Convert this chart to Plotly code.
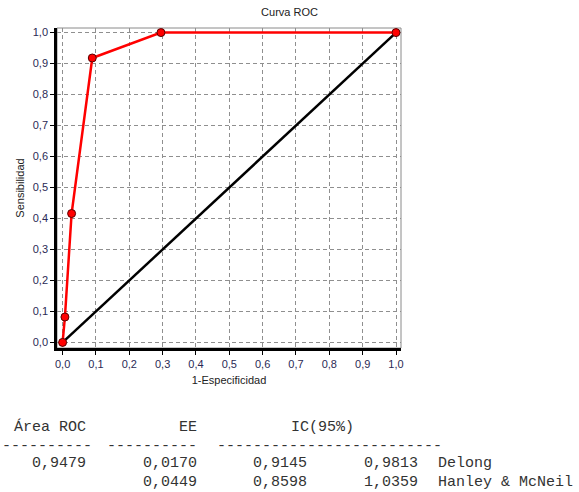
import plotly.graph_objects as go

# ---------------- data ----------------
fpr = [0.0, 0.007, 0.027, 0.089, 0.295, 1.0]
tpr = [0.0, 0.082, 0.416, 0.918, 1.0, 1.0]
diag_x = [0.0, 1.0]
diag_y = [0.0, 1.0]
tick_vals = [0.0, 0.1, 0.2, 0.3, 0.4, 0.5, 0.6, 0.7, 0.8, 0.9, 1.0]

table_header = ["Área ROC", "EE", "IC(95%)"]
area_roc = ["0,9479", ""]
ee = ["0,0170", "0,0449"]
ic_low = ["0,9145", "0,8598"]
ic_high = ["0,9813", "1,0359"]
method = ["Delong", "Hanley & McNeil"]

# ---------------- layout constants ----------------
W, H = 579, 492
ML, MR, MT, MB = 57, 178, 28, 144
PW, PH = W - ML - MR, H - MT - MB

def px_x(px):
    return (px - ML) / PW

def px_y(py):
    return (H - MB - py) / PH

tick_color = "#2a2a55"
grid_color = "#8f8f8f"

fig = go.Figure()
fig.add_trace(go.Scatter(x=diag_x, y=diag_y, mode="lines",
                         line=dict(color="black", width=2.5),
                         hoverinfo="skip", showlegend=False))
fig.add_trace(go.Scatter(x=fpr, y=tpr, mode="lines+markers",
                         line=dict(color="#ff0000", width=2.5),
                         marker=dict(color="#ff0000", size=8,
                                     line=dict(color="#5a0000", width=1)),
                         showlegend=False))

axis_common = dict(
    tickvals=tick_vals, tickformat=".1f",
    showgrid=True, gridcolor=grid_color, griddash="4px,3px", gridwidth=1,
    zeroline=False,
    showline=True, linecolor="black", linewidth=2.5,
    ticks="outside", ticklen=4, tickcolor="black", tickwidth=1,
    tickfont=dict(family="Liberation Sans, Arial", size=11, color=tick_color),
)

fig.update_xaxes(range=[-0.0168, 1.015], title=dict(text="1-Especificidad", standoff=8,
                 font=dict(family="Liberation Sans, Arial", size=11, color="#222222")),
                 **axis_common)
fig.update_yaxes(range=[-0.018, 1.0148], title=dict(text="Sensibilidad", standoff=6,
                 font=dict(family="Liberation Sans, Arial", size=11, color="#222222")),
                 **axis_common)

# thin gray frame on top / right
fig.add_shape(type="rect", xref="paper", yref="paper", x0=0, y0=0, x1=1, y1=1,
              line=dict(color="#8a8a8a", width=1), layer="below")

# ---------------- table below chart ----------------
c = 9.2      # char width in px
o = -4.6     # origin x in px
font_t = dict(family="Courier New, Liberation Mono, monospace", size=15, color="#333333")

def cell(text, px, py, anchor):
    fig.add_annotation(text=text, xref="paper", yref="paper",
                       x=px_x(px), y=px_y(py), xanchor=anchor, yanchor="middle",
                       showarrow=False, font=font_t, borderpad=0)

def col(n):
    return o + n * c

y_head, y_dash, y_r1, y_r2 = 427, 446, 463, 482
cell(table_header[0], col(10), y_head, "right")
cell(table_header[1], col(22), y_head, "right")
cell(table_header[2], col(32), y_head, "left")
cell("-" * 10, 0.5, y_dash, "left")
for start, n in [(12, 10), (24, 25)]:
    cell("-" * n, col(start), y_dash, "left")
for i, py in enumerate([y_r1, y_r2]):
    if area_roc[i]:
        cell(area_roc[i], col(10), py, "right")
    cell(ee[i], col(22), py, "right")
    cell(ic_low[i], col(34), py, "right")
    cell(ic_high[i], col(46), py, "right")
    cell(method[i], col(48), py, "left")

fig.update_layout(
    width=W, height=H, margin=dict(l=ML, r=MR, t=MT, b=MB, autoexpand=False),
    paper_bgcolor="white", plot_bgcolor="white",
    separators=",.",
    title=dict(text="Curva ROC", x=px_x(229), xanchor="center", y=1 - 12 / H, yanchor="middle",
               font=dict(family="Liberation Sans, Arial", size=11, color="#222222")),
    showlegend=False,
)

fig.write_html("out.html", config={"displayModeBar": False},
               post_script="document.body.style.margin='0';document.body.style.overflow='hidden';")
